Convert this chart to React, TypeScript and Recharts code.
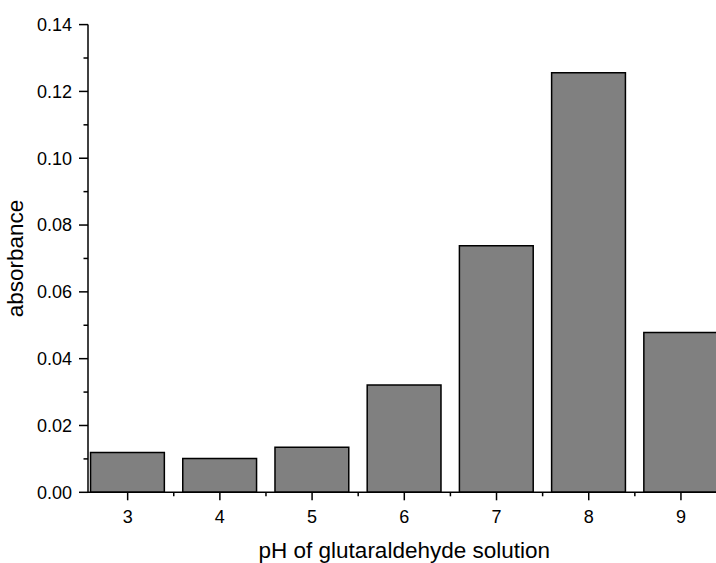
import { BarChart, Bar, XAxis, YAxis } from 'recharts';

// pH values and measured absorbance
const phValues = [3, 4, 5, 6, 7, 8, 9];
const absorbance = [0.0119, 0.0101, 0.0135, 0.0321, 0.0738, 0.1256, 0.0478];

// tick positions (majors are labelled, the rest are minor)
const xTicks = [3, 3.5, 4, 4.5, 5, 5.5, 6, 6.5, 7, 7.5, 8, 8.5, 9];
const yTicks = [0, 0.01, 0.02, 0.03, 0.04, 0.05, 0.06, 0.07, 0.08, 0.09, 0.1, 0.11, 0.12, 0.13, 0.14];
const yMajor = [0, 0.02, 0.04, 0.06, 0.08, 0.1, 0.12, 0.14];

const data = phValues.map((ph, i) => ({ ph, value: absorbance[i] }));

const FONT = '"Liberation Sans", Arial, Helvetica, sans-serif';

const XTick = (props: any) => {
    const { x, y, payload } = props;
    const major = Number.isInteger(payload.value);
    return (
        <g>
            <line x1={x} x2={x} y1={y} y2={y + (major ? 8 : 4)} stroke="#000" strokeWidth={1.5} />
            {major && (
                <text x={x} y={y + 31} textAnchor="middle" fontSize={18} fontFamily={FONT} fill="#000">
                    {payload.value}
                </text>
            )}
        </g>
    );
};

const YTick = (props: any) => {
    const { x, y, payload } = props;
    const major = yMajor.some(v => Math.abs(v - payload.value) < 1e-9);
    return (
        <g>
            <line x1={x - (major ? 9 : 4.5)} x2={x} y1={y} y2={y} stroke="#000" strokeWidth={1.5} />
            {major && (
                <text x={x - 16} y={y} dy="0.35em" textAnchor="end" fontSize={18} fontFamily={FONT} fill="#000">
                    {payload.value.toFixed(2)}
                </text>
            )}
        </g>
    );
};

export default function App() {
    return (
        <div style={{ position: 'absolute', left: 0, top: 0, width: 716, height: 563, overflow: 'hidden', background: '#fff' }}>
            <BarChart
                width={740}
                height={563}
                data={data}
                margin={{ top: 24.6, right: 19.4, bottom: 0, left: 0 }}
            >
                <XAxis
                    dataKey="ph"
                    type="number"
                    domain={[2.57, 9.43]}
                    allowDataOverflow
                    ticks={xTicks}
                    interval={0}
                    height={70.7}
                    tickSize={0}
                    tickMargin={0}
                    tickLine={false}
                    tick={<XTick />}
                    axisLine={{ stroke: '#000', strokeWidth: 1.5 }}
                    label={{
                        content: ({ viewBox }: any) => (
                            <text
                                x={viewBox.x + viewBox.width / 2}
                                y={viewBox.y + 66}
                                textAnchor="middle"
                                fontSize={22.5}
                                fontFamily={FONT}
                                fill="#000"
                            >
                                pH of glutaraldehyde solution
                            </text>
                        ),
                    }}
                />
                <YAxis
                    type="number"
                    domain={[0, 0.14]}
                    ticks={yTicks}
                    interval={0}
                    width={88}
                    tickSize={0}
                    tickMargin={0}
                    tickLine={false}
                    tick={<YTick />}
                    axisLine={{ stroke: '#000', strokeWidth: 1.5 }}
                    label={{
                        content: ({ viewBox }: any) => {
                            const cx = viewBox.x + 16;
                            const cy = viewBox.y + viewBox.height / 2;
                            return (
                                <text
                                    x={cx}
                                    y={cy}
                                    transform={`rotate(-90, ${cx}, ${cy})`}
                                    textAnchor="middle"
                                    dominantBaseline="central"
                                    fontSize={22.5}
                                    fontFamily={FONT}
                                    fill="#000"
                                >
                                    absorbance
                                </text>
                            );
                        },
                    }}
                />
                <Bar
                    dataKey="value"
                    fill="#808080"
                    stroke="#000"
                    strokeWidth={1.5}
                    barSize={73.8}
                    isAnimationActive={false}
                />
            </BarChart>
        </div>
    );
}
